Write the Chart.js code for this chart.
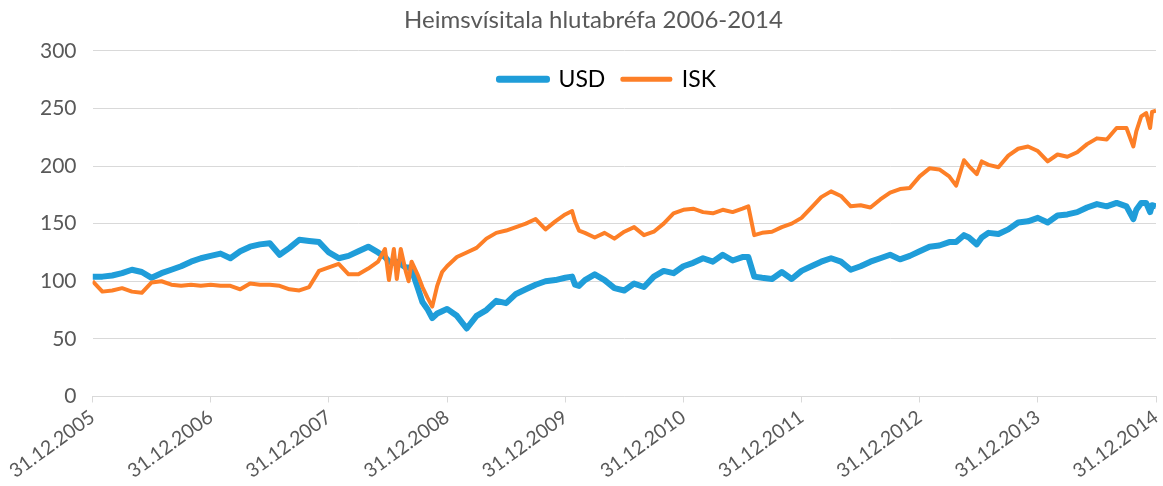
<!DOCTYPE html>
<html>
<head>
<meta charset="utf-8">
<script src="https://cdn.jsdelivr.net/npm/chart.js@4"></script>
<style>
  html, body { margin: 0; padding: 0; background: #fff; }
  #wrap { width: 1163px; height: 486px; }
</style>
</head>
<body>
<div id="wrap"><canvas id="indexChart"></canvas></div>
<script>
// months since 31.12.2005 (a few extra points where the lines spike)
const monthOffsets = [
  0, 1, 2, 3, 4, 5, 6, 7, 8, 9, 10, 11, 12, 13, 14, 15, 16, 17, 18, 19, 20, 21, 22, 23, 24,
  25, 26, 27, 28, 29, 29.7, 30.1, 30.6, 30.9, 31.3, 31.8, 32.1, 32.4, 33, 33.5, 34, 34.5, 35, 35.5,
  36, 37, 38, 39, 40, 41, 42, 43, 44, 45, 46, 47, 48, 48.7, 49, 49.4, 50, 51, 52, 53, 54, 55, 56,
  57, 58, 59, 60, 61, 62, 63, 64, 65, 66, 66.6, 67.2, 68, 69, 70, 71, 72, 73, 74, 75, 76, 77, 78,
  79, 80, 81, 82, 83, 84, 85, 86, 87, 87.7, 88.5, 89, 89.8, 90.3, 91, 92, 93, 94, 95, 96, 97, 98,
  99, 100, 101, 102, 103, 104, 105, 105.7, 106, 106.5, 107, 107.4, 107.6, 108
];

const usdValues = [
  104, 104, 105, 107, 110, 108, 103, 107, 110, 113, 117, 120, 122, 124, 120, 126, 130, 132, 133, 123, 129, 136, 135, 134, 125,
  120, 122, 126, 130, 125, 121, 117, 116, 117, 115, 112, 112, 110, 95, 82, 76, 68, 72, 74,
  76, 70, 59, 70, 75, 83, 81, 89, 93, 97, 100, 101, 103, 104, 97, 96, 101, 106, 101, 94, 92, 98, 95,
  104, 109, 107, 113, 116, 120, 117, 123, 118, 121, 121, 104, 103, 102, 108, 102, 109, 113, 117, 120, 117, 110, 113,
  117, 120, 123, 119, 122, 126, 130, 131, 134, 134, 140, 138, 132, 138, 142, 141, 145, 151, 152, 155, 151, 157,
  158, 160, 164, 167, 165, 168, 165, 154, 162, 168, 168, 160, 166, 165
];

const iskValues = [
  100, 91, 92, 94, 91, 90, 99, 100, 97, 96, 97, 96, 97, 96, 96, 93, 98, 97, 97, 96, 93, 92, 95, 109, 112,
  115, 106, 106, 111, 117, 128, 101, 128, 102, 128, 109, 100, 117, 106, 95, 86, 78, 96, 108,
  113, 121, 125, 129, 137, 142, 144, 147, 150, 154, 145, 152, 158, 161, 152, 144, 142, 138, 142, 137, 143, 147, 140,
  143, 150, 159, 162, 163, 160, 159, 162, 160, 163, 165, 140, 142, 143, 147, 150, 155, 164, 173, 178, 174, 165, 166,
  164, 171, 177, 180, 181, 191, 198, 197, 191, 183, 205, 200, 193, 204, 201, 199, 209, 215, 217, 213, 204, 210,
  208, 212, 219, 224, 223, 233, 233, 217, 230, 243, 246, 233, 247, 248
];

const yearLabels = [
  "31.12.2005", "31.12.2006", "31.12.2007", "31.12.2008", "31.12.2009",
  "31.12.2010", "31.12.2011", "31.12.2012", "31.12.2013", "31.12.2014"
];

const seriesNames = ["USD", "ISK"];

const toPoints = (vals) => monthOffsets.map((m, i) => ({ x: m, y: vals[i] }));

// legend takes no room of its own, so it sits on top of the plot like in Excel
const overlayLegend = {
  id: "overlayLegend",
  beforeLayout(chart) {
    const lg = chart.legend;
    if (lg && !lg._overlay) {
      const fit = lg.fit.bind(lg);
      lg.fit = function () {
        fit();
        this.height = 0;
      };
      lg.draw = function () {
        if (!this.options.display) return;
        this.ctx.save();
        this.ctx.translate(14, 0);
        this._draw();
        this.ctx.restore();
      };
      lg._overlay = true;
    }
  },
};

const ctx = document.getElementById("indexChart").getContext("2d");
const grey = "#595959";
const font = "Lato, 'Open Sans', sans-serif";

new Chart(ctx, {
  type: "line",
  data: {
    datasets: [
      {
        label: seriesNames[0],
        data: toPoints(usdValues),
        borderColor: "#1F9DD9",
        backgroundColor: "#1F9DD9",
        borderWidth: 6,
        pointRadius: 0,
        tension: 0,
        borderJoinStyle: "round",
        order: 1,
      },
      {
        label: seriesNames[1],
        data: toPoints(iskValues),
        borderColor: "#FD7F27",
        backgroundColor: "#FD7F27",
        borderWidth: 4,
        pointRadius: 0,
        tension: 0,
        borderJoinStyle: "round",
        order: 0,
      },
    ],
  },
  plugins: [overlayLegend],
  options: {
    responsive: true,
    maintainAspectRatio: false,
    animation: false,
    layout: { padding: { left: 24, right: 0, top: 0, bottom: 0 } },
    plugins: {
      title: {
        display: true,
        text: "Heimsvísitala hlutabréfa 2006-2014",
        color: grey,
        font: { family: font, size: 24, weight: "normal" },
        padding: { top: 6, bottom: 16 },
      },
      legend: {
        position: "top",
        align: "center",
        labels: {
          color: "#000",
          font: { family: font, size: 23 },
          boxWidth: 48,
          boxHeight: 1,
          padding: 17,
          sort: (a, b) => a.datasetIndex - b.datasetIndex,
        },
      },
      tooltip: { enabled: false },
    },
    scales: {
      x: {
        type: "linear",
        min: 0,
        max: 108,
        afterFit: (scale) => {
          scale.paddingRight = 7;
        },
        grid: {
          drawOnChartArea: false,
          color: "#d9d9d9",
          tickLength: 6,
        },
        border: { color: "#d9d9d9" },
        ticks: {
          stepSize: 12,
          autoSkip: false,
          maxRotation: 36,
          minRotation: 36,
          color: grey,
          font: { family: font, size: 19.5 },
          callback: (v) => yearLabels[v / 12],
        },
      },
      y: {
        min: 0,
        max: 300,
        grid: { color: "#d9d9d9", drawTicks: false },
        border: { display: false },
        ticks: {
          stepSize: 50,
          padding: 16,
          color: grey,
          font: { family: font, size: 21 },
        },
      },
    },
  },
});
</script>
</body>
</html>
